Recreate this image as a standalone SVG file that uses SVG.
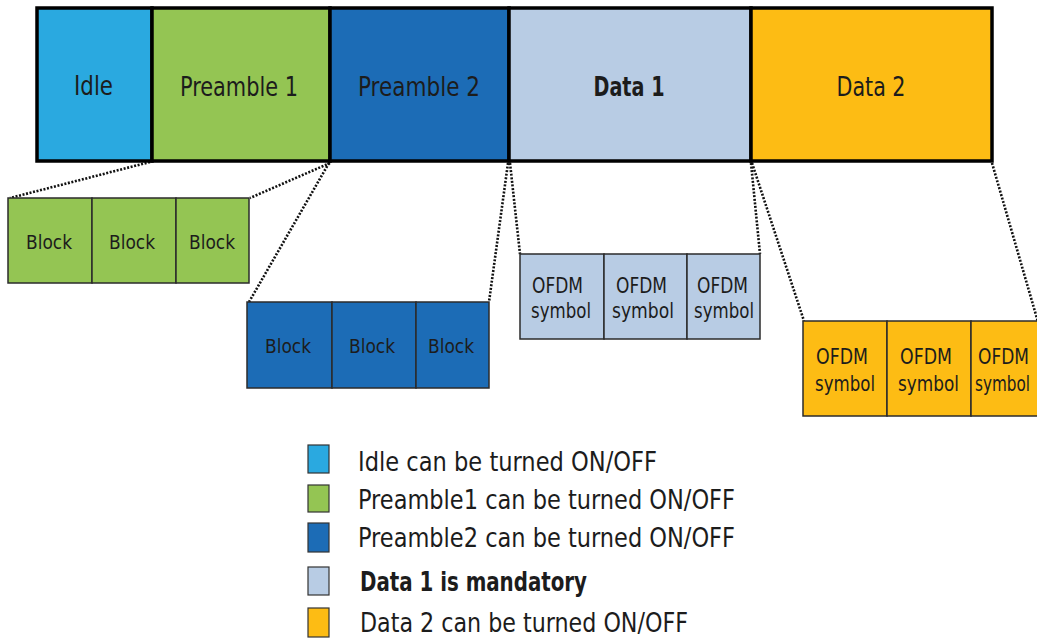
<svg xmlns="http://www.w3.org/2000/svg" width="1037" height="639" viewBox="0 0 1037 639">
<style>
text{font-family:"Liberation Sans Narrow","DejaVu Sans Condensed","Liberation Sans",sans-serif;font-stretch:condensed;fill:#1c1c1c;}
.top{font-size:27px;text-anchor:middle;}
.blk{font-size:20px;}
.ofdm{font-size:21px;}
.leg{font-size:27px;}
.bold{font-weight:bold;}
.seg{stroke:#000;stroke-width:3.5;}
.cell{stroke:#2b2b2b;stroke-width:1.5;}
.sw{stroke:#333;stroke-width:1.2;}
.idle{fill:#2aa9e0;}
.p1{fill:#94c553;}
.p2{fill:#1c6cb6;}
.d1{fill:#b8cce4;}
.d2{fill:#fdbc14;}
.dot{fill:none;stroke:#111;stroke-width:2.6;stroke-dasharray:2 1.6;}
</style>
<rect width="1037" height="639" fill="#fff"/>

<g id="connectors">
<line class="dot" x1="150" y1="162" x2="10" y2="198"/>
<line class="dot" x1="330" y1="163" x2="250" y2="198"/>
<line class="dot" x1="329" y1="163" x2="249" y2="302"/>
<line class="dot" x1="508" y1="163" x2="489" y2="302"/>
<line class="dot" x1="510" y1="163" x2="520" y2="254"/>
<line class="dot" x1="751" y1="163" x2="760" y2="254"/>
<line class="dot" x1="752" y1="163" x2="804" y2="321"/>
<line class="dot" x1="992" y1="163" x2="1038" y2="322"/>
</g>

<g id="idle">
<rect class="seg idle" x="37" y="8" width="115" height="153"/>
<text class="top" x="93.5" y="95" textLength="39" lengthAdjust="spacingAndGlyphs">Idle</text>
</g>
<g id="preamble1">
<rect class="seg p1" x="152" y="8" width="178" height="153"/>
<text class="top" x="239" y="96" textLength="118" lengthAdjust="spacingAndGlyphs">Preamble 1</text>
</g>
<g id="preamble2">
<rect class="seg p2" x="330" y="8" width="179" height="153"/>
<text class="top" x="419" y="96" textLength="122" lengthAdjust="spacingAndGlyphs">Preamble 2</text>
</g>
<g id="data1">
<rect class="seg d1" x="509" y="8" width="242" height="153"/>
<text class="top bold" x="629" y="96" textLength="71" lengthAdjust="spacingAndGlyphs">Data 1</text>
</g>
<g id="data2">
<rect class="seg d2" x="751" y="8" width="241" height="153"/>
<text class="top" x="871" y="96" textLength="69" lengthAdjust="spacingAndGlyphs">Data 2</text>
</g>

<g id="preamble1-blocks">
<rect class="cell p1" x="8" y="198" width="84" height="85"/>
<rect class="cell p1" x="92" y="198" width="84" height="85"/>
<rect class="cell p1" x="176" y="198" width="73" height="85"/>
<text class="blk" x="26" y="249" textLength="46" lengthAdjust="spacingAndGlyphs">Block</text>
<text class="blk" x="109" y="249" textLength="46" lengthAdjust="spacingAndGlyphs">Block</text>
<text class="blk" x="189" y="249" textLength="46" lengthAdjust="spacingAndGlyphs">Block</text>
</g>

<g id="preamble2-blocks">
<rect class="cell p2" x="247" y="302" width="85" height="86"/>
<rect class="cell p2" x="332" y="302" width="84" height="86"/>
<rect class="cell p2" x="416" y="302" width="73" height="86"/>
<text class="blk" x="265" y="353" textLength="46" lengthAdjust="spacingAndGlyphs">Block</text>
<text class="blk" x="349" y="353" textLength="46" lengthAdjust="spacingAndGlyphs">Block</text>
<text class="blk" x="428" y="353" textLength="46" lengthAdjust="spacingAndGlyphs">Block</text>
</g>

<g id="data1-symbols">
<rect class="cell d1" x="520" y="254" width="84" height="85"/>
<rect class="cell d1" x="604" y="254" width="83" height="85"/>
<rect class="cell d1" x="687" y="254" width="73" height="85"/>
<text class="ofdm" x="532" y="293" textLength="51" lengthAdjust="spacingAndGlyphs">OFDM</text>
<text class="ofdm" x="531" y="318" textLength="60" lengthAdjust="spacingAndGlyphs">symbol</text>
<text class="ofdm" x="616" y="293" textLength="51" lengthAdjust="spacingAndGlyphs">OFDM</text>
<text class="ofdm" x="612" y="318" textLength="62" lengthAdjust="spacingAndGlyphs">symbol</text>
<text class="ofdm" x="697" y="293" textLength="51" lengthAdjust="spacingAndGlyphs">OFDM</text>
<text class="ofdm" x="694" y="318" textLength="60" lengthAdjust="spacingAndGlyphs">symbol</text>
</g>

<g id="data2-symbols">
<rect class="cell d2" x="803" y="321" width="84" height="95"/>
<rect class="cell d2" x="887" y="321" width="84" height="95"/>
<rect class="cell d2" x="971" y="321" width="84" height="95"/>
<text class="ofdm" x="816" y="364" textLength="52" lengthAdjust="spacingAndGlyphs">OFDM</text>
<text class="ofdm" x="815" y="391" textLength="60" lengthAdjust="spacingAndGlyphs">symbol</text>
<text class="ofdm" x="900" y="364" textLength="52" lengthAdjust="spacingAndGlyphs">OFDM</text>
<text class="ofdm" x="898" y="391" textLength="61" lengthAdjust="spacingAndGlyphs">symbol</text>
<text class="ofdm" x="978" y="364" textLength="51" lengthAdjust="spacingAndGlyphs">OFDM</text>
<text class="ofdm" x="975" y="391" textLength="55" lengthAdjust="spacingAndGlyphs">symbol</text>
</g>

<g id="legend">
<rect class="sw idle" x="308" y="445" width="21" height="28"/>
<rect class="sw p1" x="308" y="485" width="21" height="27"/>
<rect class="sw p2" x="308" y="523" width="21" height="29"/>
<rect class="sw d1" x="308" y="567" width="21" height="28"/>
<rect class="sw d2" x="308" y="608" width="21" height="29"/>
<text class="leg" x="358" y="471" textLength="299" lengthAdjust="spacingAndGlyphs">Idle can be turned ON/OFF</text>
<text class="leg" x="358" y="509" textLength="377" lengthAdjust="spacingAndGlyphs">Preamble1 can be turned ON/OFF</text>
<text class="leg" x="358" y="547" textLength="377" lengthAdjust="spacingAndGlyphs">Preamble2 can be turned ON/OFF</text>
<text class="leg bold" x="360" y="591" textLength="227" lengthAdjust="spacingAndGlyphs">Data 1 is mandatory</text>
<text class="leg" x="360" y="632" textLength="328" lengthAdjust="spacingAndGlyphs">Data 2 can be turned ON/OFF</text>
</g>
</svg>
